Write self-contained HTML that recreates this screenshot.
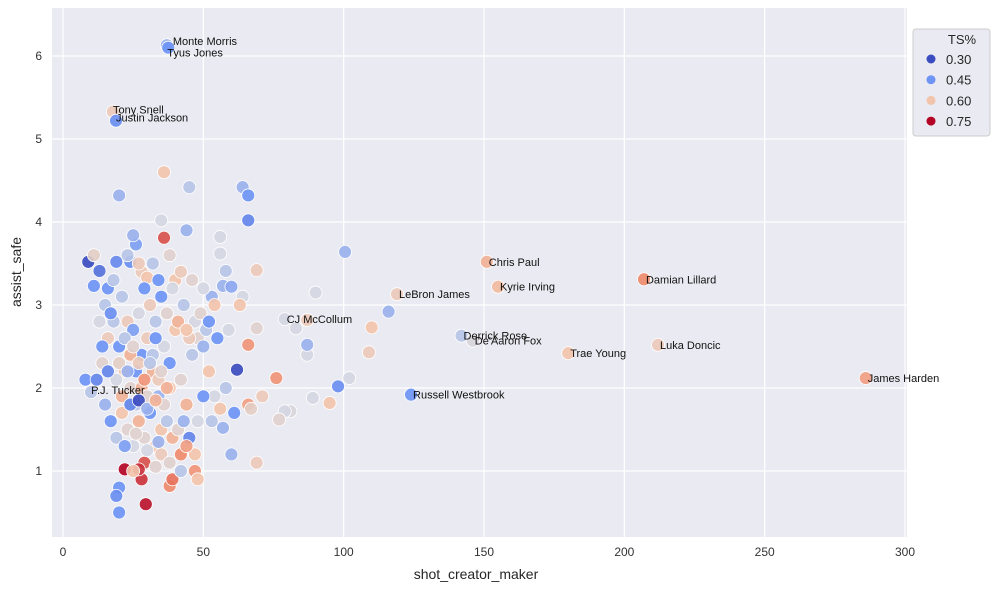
<!DOCTYPE html>
<html><head><meta charset="utf-8"><style>
body{margin:0;background:#fff;font-family:"Liberation Sans",sans-serif;}
svg text{font-family:"Liberation Sans",sans-serif;}
</style></head><body>
<svg id="chart" width="999" height="594" xmlns="http://www.w3.org/2000/svg">
<rect x="52" y="8" width="855" height="529" fill="#eaeaf2"/>
<g id="grid"></g>
<g id="points"></g>
<g id="labels"></g>
<g id="xticks"></g>
<g id="yticks"></g>
<text x="476" y="579" font-size="14" fill="#262626" text-anchor="middle">shot_creator_maker</text>
<text x="0" y="0" transform="translate(21,272) rotate(-90)" font-size="14" fill="#262626" text-anchor="middle">assist_safe</text>
<g>
<rect x="913" y="29" width="77" height="107" rx="3" fill="#eaeaf2" stroke="#cccccc" stroke-width="1"/>
<text x="962" y="44" font-size="13" fill="#262626" text-anchor="middle">TS%</text>
<g id="legend-items"></g>
</g>
</svg>
<script>
const xs=[37,37.5,17.8,18.9,151,155,207,119,79,142,
146,180,212,286,124,10,100.5,90,83,87,
116,110,109,102,98,95,89,87,87,81,
9,13,11,16,19,24,26,25,20,36,
45,64,66,66,44,36,35,56,56,58,
57,11,28,30,40,69,64,63,53,60,
62,66,59,69,76,71,66,61,57,60,
69,67,79,77,47,48,42,38,39,29.5,
29,28,22,27,20,19,20,33,25,35,
8,12,14,16,18,20,22,24,26,28,
30,32,34,36,38,40,42,44,46,48,
50,52,54,15,17,19,21,23,25,27,
29,31,33,35,37,39,41,43,45,47,
13,15,17,21,23,25,27,29,31,33,
35,37,39,41,43,45,47,49,51,55,
20,22,24,26,28,30,32,34,36,38,
19,21,23,25,27,29,31,33,35,37,
24,27,30,33,22,26,30,34,38,42,
44,48,50,53,56,58,52,54,50,46,
18,23,27,32,34,38,42,44,14,16];
const ys=[6.13,6.1,5.33,5.22,3.52,3.22,3.31,3.13,2.83,2.63,
2.57,2.42,2.52,2.12,1.92,1.95,3.64,3.15,2.72,2.82,
2.92,2.73,2.43,2.12,2.02,1.82,1.88,2.4,2.52,1.72,
3.52,3.41,3.23,3.2,3.52,3.52,3.73,3.84,4.32,4.6,
4.42,4.42,4.32,4.02,3.9,3.81,4.02,3.82,3.62,3.41,
3.23,3.6,3.4,3.33,3.3,3.42,3.1,3.0,3.1,3.22,
2.22,2.52,2.7,2.72,2.12,1.9,1.8,1.7,1.52,1.2,
1.1,1.75,1.72,1.62,1.0,0.9,1.2,0.82,0.9,0.6,
1.1,0.9,1.02,1.02,0.8,0.7,0.5,1.05,1.0,1.5,
2.1,2.1,2.3,2.6,2.8,2.5,2.2,2.0,1.8,2.4,
2.6,2.2,1.9,2.5,2.3,2.7,2.1,1.8,2.4,2.6,
2.5,2.2,1.9,1.8,1.6,1.4,1.7,1.5,1.3,1.6,
1.4,1.7,1.3,1.2,1.6,1.4,1.5,1.6,1.4,1.2,
2.8,3.0,2.9,3.1,2.8,2.7,2.9,3.2,3.0,2.8,
3.1,2.9,3.2,2.8,3.0,2.6,2.8,2.9,2.7,2.6,
2.3,2.6,2.4,2.2,2.0,1.9,2.4,2.1,1.8,2.0,
2.1,1.9,2.2,2.5,2.3,2.1,2.3,2.6,2.2,2.0,
1.8,1.85,1.75,1.85,1.3,1.45,1.25,1.35,1.1,1.0,
1.3,1.6,1.9,1.6,1.75,2.0,2.8,3.0,3.2,3.3,
3.3,3.6,3.5,3.5,3.3,3.6,3.4,2.7,2.5,2.2];
const tsPct=[.48,.45,.58,.44,.62,.61,.66,.58,.52,.5,
.53,.6,.58,.64,.45,.5,.48,.52,.52,.58,
.48,.6,.58,.52,.44,.6,.52,.52,.48,.53,
.30,.38,.45,.45,.43,.44,.46,.48,.48,.6,
.5,.48,.45,.42,.48,.7,.52,.52,.52,.5,
.48,.56,.58,.6,.6,.58,.52,.6,.48,.47,
.30,.65,.52,.55,.65,.58,.64,.45,.48,.48,
.58,.56,.52,.55,.65,.6,.66,.66,.68,.74,
.7,.72,.75,.72,.45,.44,.45,.55,.6,.6,
.45,.42,.55,.58,.5,.45,.6,.55,.5,.45,
.58,.62,.48,.52,.45,.6,.55,.62,.5,.55,
.48,.6,.52,.48,.45,.5,.6,.55,.52,.62,
.55,.45,.6,.58,.5,.62,.55,.48,.42,.6,
.52,.5,.44,.5,.58,.46,.52,.45,.58,.5,
.45,.55,.52,.62,.5,.58,.52,.55,.5,.45,
.56,.5,.62,.45,.62,.55,.5,.58,.55,.6,
.52,.62,.48,.55,.58,.65,.5,.45,.55,.62,
.42,.30,.48,.62,.46,.55,.52,.48,.55,.5,
.64,.52,.45,.5,.6,.5,.45,.6,.52,.55,
.5,.5,.58,.5,.45,.55,.58,.6,.45,.42];
const labelNames=["Monte Morris","Tyus Jones","Tony Snell","Justin Jackson","Chris Paul","Kyrie Irving","Damian Lillard","LeBron James","CJ McCollum","Derrick Rose","De'Aaron Fox","Trae Young","Luka Doncic","James Harden","Russell Westbrook","P.J. Tucker"];
const labelIdx=[0,1,2,3,4,5,6,7,8,9,10,11,12,13,14,15];
const labelDx=[6,-1,0,0,2,2,2,2,2,2,2,2,2,2,2,0];
const labelDy=[0,9,2,1,4,4,4,4,4,4,4,4,4,4,4,2];
const xTicks=[0,50,100,150,200,250,300];
const yTicks=[1,2,3,4,5,6];
const legendVals=[0.30,0.45,0.60,0.75];

const X=v=>63+v*2.8067;
const Y=v=>471-(v-1)*83;
const NS="http://www.w3.org/2000/svg";
function mk(t,a,p){const e=document.createElementNS(NS,t);for(const k in a)e.setAttribute(k,a[k]);p.appendChild(e);return e;}
const stops=[[0.30,[59,76,192]],[0.45,[110,148,245]],[0.52,[212,215,226]],[0.60,[242,196,172]],[0.67,[238,130,100]],[0.75,[180,4,38]]];
function color(ts){const t=Math.max(0.30,Math.min(0.75,ts));
 for(let i=0;i<stops.length-1;i++){const[a,ca]=stops[i],[b,cb]=stops[i+1];if(t<=b){const f=(t-a)/(b-a);return `rgb(${ca.map((c,j)=>Math.round(c+(cb[j]-c)*f)).join(',')})`;}}return 'rgb(180,4,38)';}
const grid=document.getElementById('grid');
xTicks.forEach(v=>{const l=mk('line',{x1:X(v),x2:X(v),y1:8,y2:537,stroke:'#fff','stroke-width':1.2},grid);


const t=mk('text',{x:X(v),y:556,'font-size':12,fill:'#333','text-anchor':'middle'},document.getElementById('xticks'));t.textContent=v;

});
yTicks.forEach(v=>{const l=mk('line',{x1:52,x2:907,y1:Y(v),y2:Y(v),stroke:'#fff','stroke-width':1.2},grid);


const t=mk('text',{x:42,y:Y(v)+4,'font-size':12,fill:'#333','text-anchor':'end'},document.getElementById('yticks'));t.textContent=v;

});
const pg=document.getElementById('points');
xs.forEach((x,i)=>{const c=mk('circle',{cx:X(x),cy:Y(ys[i]),r:6.5,fill:color(tsPct[i]),'fill-opacity':0.92,stroke:'#fff','stroke-width':0.8},pg);

});
const lg=document.getElementById('labels');
labelIdx.forEach((idx,k)=>{const t=mk('text',{x:X(xs[idx])+labelDx[k],y:Y(ys[idx])+labelDy[k],'font-size':11,fill:'#111'},lg);t.textContent=labelNames[k];

});
const li=document.getElementById('legend-items');
legendVals.forEach((v,i)=>{const y=59+i*20.7;
const c=mk('circle',{cx:931,cy:y,r:4.5,fill:color(v)},li);


const t=mk('text',{x:946,y:y+5,'font-size':13,fill:'#262626'},li);t.textContent=v.toFixed(2);

});
</script>
</body></html>
